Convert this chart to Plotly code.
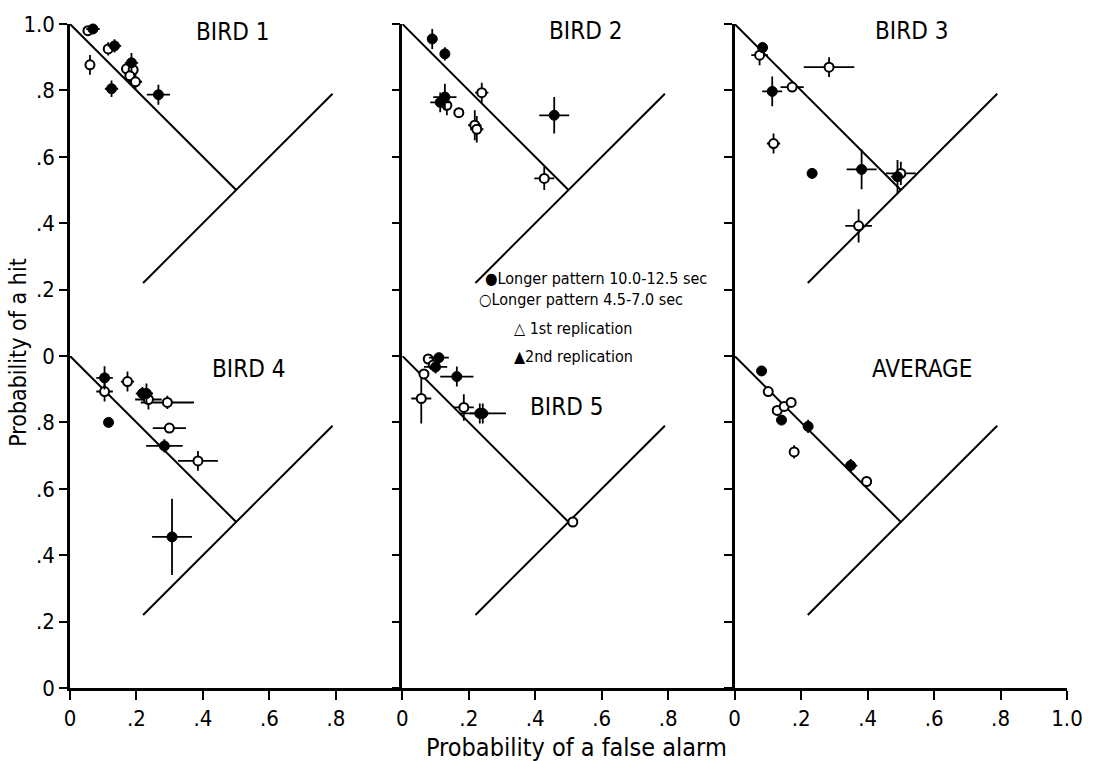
import plotly.graph_objects as go
from plotly.subplots import make_subplots

# ---------------- data ----------------
PANELS = ["BIRD 1", "BIRD 2", "BIRD 3", "BIRD 4", "BIRD 5", "AVERAGE"]

# filled circles: longer pattern 10.0-12.5 sec
FILLED_X = [
    [0.069, 0.134, 0.125, 0.185, 0.266],
    [0.090, 0.128, 0.128, 0.114, 0.457],
    [0.084, 0.113, 0.233, 0.382, 0.490],
    [0.104, 0.218, 0.230, 0.116, 0.284, 0.307],
    [0.110, 0.100, 0.164, 0.242, 0.233],
    [0.081, 0.141, 0.221, 0.349],
]
FILLED_Y = [
    [0.985, 0.934, 0.805, 0.883, 0.787],
    [0.955, 0.910, 0.780, 0.764, 0.725],
    [0.929, 0.797, 0.550, 0.562, 0.540],
    [0.934, 0.887, 0.887, 0.800, 0.729, 0.455],
    [0.995, 0.967, 0.938, 0.827, 0.827],
    [0.955, 0.807, 0.788, 0.670],
]
FILLED_EX = [
    [0.020, 0.020, 0.020, 0.020, 0.035],
    [0.015, 0.012, 0.035, 0.030, 0.045],
    [0.015, 0.030, 0.015, 0.045, 0.020],
    [0.025, 0.020, 0.020, 0.010, 0.055, 0.060],
    [0.030, 0.035, 0.050, 0.070, 0.030],
    [0.010, 0.015, 0.015, 0.020],
]
FILLED_EY = [
    [0.015, 0.020, 0.025, 0.030, 0.030],
    [0.030, 0.020, 0.040, 0.030, 0.055],
    [0.015, 0.045, 0.015, 0.060, 0.050],
    [0.035, 0.020, 0.030, 0.010, 0.020, 0.115],
    [0.020, 0.020, 0.030, 0.030, 0.030],
    [0.015, 0.010, 0.020, 0.020],
]

# open circles: longer pattern 4.5-7.0 sec
OPEN_X = [
    [0.054, 0.115, 0.060, 0.170, 0.190, 0.180, 0.197],
    [0.239, 0.134, 0.170, 0.218, 0.224, 0.427],
    [0.075, 0.284, 0.173, 0.117, 0.500, 0.373],
    [0.173, 0.104, 0.236, 0.293, 0.299, 0.385],
    [0.078, 0.093, 0.065, 0.057, 0.185, 0.513],
    [0.101, 0.128, 0.149, 0.170, 0.179, 0.397],
]
OPEN_Y = [
    [0.980, 0.925, 0.877, 0.865, 0.862, 0.844, 0.826],
    [0.793, 0.755, 0.733, 0.695, 0.683, 0.535],
    [0.906, 0.870, 0.810, 0.640, 0.550, 0.392],
    [0.923, 0.893, 0.869, 0.860, 0.783, 0.684],
    [0.991, 0.973, 0.946, 0.872, 0.845, 0.500],
    [0.893, 0.836, 0.848, 0.860, 0.711, 0.622],
]
OPEN_EX = [
    [0.010, 0.015, 0.015, 0.010, 0.015, 0.015, 0.020],
    [0.020, 0.015, 0.015, 0.020, 0.020, 0.030],
    [0.025, 0.076, 0.035, 0.020, 0.045, 0.040],
    [0.020, 0.025, 0.040, 0.080, 0.050, 0.060],
    [0.015, 0.015, 0.010, 0.030, 0.030, 0.010],
    [0.010, 0.010, 0.010, 0.010, 0.015, 0.015],
]
OPEN_EY = [
    [0.010, 0.020, 0.030, 0.010, 0.020, 0.015, 0.025],
    [0.030, 0.030, 0.015, 0.045, 0.040, 0.035],
    [0.030, 0.030, 0.015, 0.030, 0.035, 0.050],
    [0.030, 0.030, 0.030, 0.020, 0.015, 0.030],
    [0.015, 0.010, 0.010, 0.075, 0.040, 0.015],
    [0.015, 0.010, 0.010, 0.010, 0.020, 0.015],
]

# reference lines
NEG_DIAG_X = [0.0, 0.5]
NEG_DIAG_Y = [1.0, 0.5]
POS_DIAG_X = [0.22, 0.79]
POS_DIAG_Y = [0.22, 0.79]

TICKS_X = [0, 0.2, 0.4, 0.6, 0.8]
TICKS_X_LAST = [0, 0.2, 0.4, 0.6, 0.8, 1.0]
TICK_TEXT_X = ["0", ".2", ".4", ".6", ".8"]
TICK_TEXT_X_LAST = ["0", ".2", ".4", ".6", ".8", "1.0"]
TICKS_Y_TOP = [0, 0.2, 0.4, 0.6, 0.8, 1.0]
TICK_TEXT_Y_TOP = ["0", ".2", ".4", ".6", ".8", "1.0"]
TICKS_Y_BOT = [0, 0.2, 0.4, 0.6, 0.8]
TICK_TEXT_Y_BOT = ["0", ".2", ".4", ".6", ".8"]

LEGEND_TEXT = [
    "\u25CFLonger pattern 10.0-12.5 sec",
    "\u25CBLonger pattern 4.5-7.0 sec",
    "\u25B3 1st replication",
    "\u25B22nd replication",
]

# ---------------- figure ----------------
FONT = "DejaVu Sans Condensed, Liberation Sans Narrow, Roboto, DejaVu Sans, sans-serif"
fig = make_subplots(rows=2, cols=3, horizontal_spacing=0, vertical_spacing=0)

for i in range(6):
    r, c = i // 3 + 1, i % 3 + 1
    fig.add_trace(go.Scatter(x=NEG_DIAG_X, y=NEG_DIAG_Y, mode="lines",
                             line=dict(color="black", width=2), showlegend=False,
                             hoverinfo="skip"), row=r, col=c)
    fig.add_trace(go.Scatter(x=POS_DIAG_X, y=POS_DIAG_Y, mode="lines",
                             line=dict(color="black", width=2), showlegend=False,
                             hoverinfo="skip"), row=r, col=c)
    fig.add_trace(go.Scatter(
        x=OPEN_X[i], y=OPEN_Y[i], mode="markers", cliponaxis=False,
        marker=dict(symbol="circle", size=9, color="white",
                    line=dict(color="black", width=2)),
        error_x=dict(type="data", array=OPEN_EX[i], color="black", thickness=1.8, width=0),
        error_y=dict(type="data", array=OPEN_EY[i], color="black", thickness=1.8, width=0),
        showlegend=False), row=r, col=c)
    fig.add_trace(go.Scatter(
        x=FILLED_X[i], y=FILLED_Y[i], mode="markers", cliponaxis=False,
        marker=dict(symbol="circle", size=10, color="black",
                    line=dict(color="black", width=1)),
        error_x=dict(type="data", array=FILLED_EX[i], color="black", thickness=1.8, width=0),
        error_y=dict(type="data", array=FILLED_EY[i], color="black", thickness=1.8, width=0),
        showlegend=False), row=r, col=c)

for i in range(6):
    r, c = i // 3 + 1, i % 3 + 1
    bottom = r == 2
    if bottom:
        tv = TICKS_X_LAST if c == 3 else TICKS_X
        tt = TICK_TEXT_X_LAST if c == 3 else TICK_TEXT_X
        fig.update_xaxes(range=[0, 1], tickvals=tv, ticktext=tt, showline=True,
                         linecolor="black", linewidth=2.5, ticks="outside",
                         ticklen=9, tickwidth=2, tickcolor="black",
                         showgrid=False, zeroline=False,
                         tickfont=dict(family=FONT, size=22, color="black"),
                         row=r, col=c)
    else:
        fig.update_xaxes(range=[0, 1], showline=False, showticklabels=False,
                         ticks="", showgrid=False, zeroline=False, row=r, col=c)
    tvy = TICKS_Y_BOT if bottom else TICKS_Y_TOP
    tty = TICK_TEXT_Y_BOT if bottom else TICK_TEXT_Y_TOP
    fig.update_yaxes(range=[0, 1], tickvals=tvy, ticktext=tty, showline=True,
                     linecolor="black", linewidth=2.5, ticks="outside",
                     ticklen=8, tickwidth=2, tickcolor="black",
                     showticklabels=(c == 1), showgrid=False, zeroline=False,
                     tickfont=dict(family=FONT, size=22, color="black"),
                     row=r, col=c)

# panel titles (data coordinates of each panel)
TITLE_POS = [(0.49, 0.975), (0.552, 0.978), (0.531, 0.978),
             (0.537, 0.961), (0.495, 0.845), (0.563, 0.961)]
for i, name in enumerate(PANELS):
    ax = "" if i == 0 else str(i + 1)
    fig.add_annotation(x=TITLE_POS[i][0], y=TITLE_POS[i][1], xref="x" + ax, yref="y" + ax,
                       text=name, showarrow=False, xanchor="center", yanchor="middle",
                       font=dict(family=FONT, size=24, color="black"))

# legend (paper coordinates)
LEG_POS = [(0.414, 0.617), (0.408, 0.585), (0.443, 0.541), (0.443, 0.500)]
for (lx, ly), txt in zip(LEG_POS, LEGEND_TEXT):
    fig.add_annotation(x=lx, y=ly, xref="paper", yref="paper", text=txt, showarrow=False,
                       xanchor="left", yanchor="middle",
                       font=dict(family=FONT, size=16, color="black"))

fig.add_annotation(x=0.508, y=-0.09, xref="paper", yref="paper",
                   text="Probability of a false alarm", showarrow=False,
                   xanchor="center", yanchor="middle",
                   font=dict(family=FONT, size=25, color="black"))
fig.add_annotation(x=-0.052, y=0.505, xref="paper", yref="paper",
                   text="Probability of a hit", showarrow=False, textangle=-90,
                   xanchor="center", yanchor="middle",
                   font=dict(family=FONT, size=23, color="black"))

fig.update_layout(width=1095, height=761, margin=dict(l=70, r=22, t=18, b=73),
                  paper_bgcolor="white", plot_bgcolor="white", showlegend=False,
                  font=dict(family=FONT, color="black"))

fig.write_html("out.html")
